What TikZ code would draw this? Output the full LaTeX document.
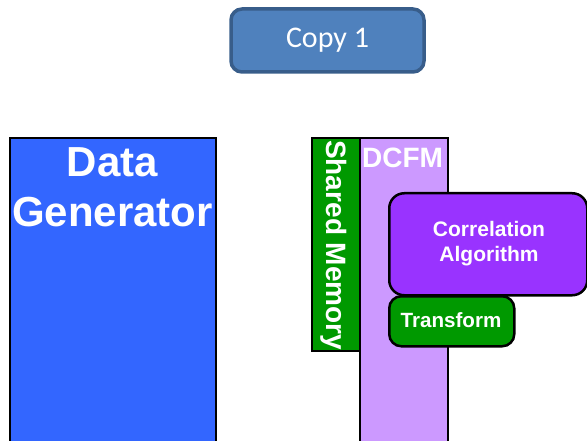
\documentclass[tikz,border=0pt]{standalone}
\usepackage{fontspec}
\setmainfont{Liberation Sans}
\newfontfamily\calib{Carlito}
\definecolor{dgblue}{HTML}{3366FF}
\definecolor{smgreen}{HTML}{009900}
\definecolor{dcfmlav}{HTML}{CC99FF}
\definecolor{corrpurple}{HTML}{9933FF}
\definecolor{copyfill}{HTML}{4F81BD}
\definecolor{copyline}{HTML}{385D8A}
\tikzset{
  sqbox/.style={draw=black, line width=2pt, inner sep=0pt, anchor=north west},
  rbox/.style={draw=black, line width=2.5pt, inner sep=0pt, anchor=north west},
  wlab/.style={text=white, font=\bfseries, inner sep=0pt}
}
\begin{document}
\begin{tikzpicture}[x=1pt,y=-1pt]
\useasboundingbox (0,0) rectangle (587,441);
% Copy 1
\node[draw=copyline, line width=3.5pt, fill=copyfill, rounded corners=11pt,
      minimum width=193pt, minimum height=63pt, inner sep=0pt,
      text=white, font=\calib\fontsize{30}{33}\selectfont] (copy) at (327.5,40.5) {Copy 1};
% Data generator
\node[sqbox, fill=dgblue, minimum width=206pt, minimum height=306pt] (dg) at (9,137) {};
\node[wlab, font=\bfseries\fontsize{42}{48}\selectfont, anchor=base] (dgt1) at (112.5,177) {Data};
\node[wlab, font=\bfseries\fontsize{42}{48}\selectfont, anchor=base] (dgt2) at (112.5,227) {Generator};
% DCFM
\node[sqbox, fill=dcfmlav, minimum width=88pt, minimum height=306pt] (dcfm) at (359,137) {};
\node[wlab, font=\bfseries\fontsize{28}{30}\selectfont, anchor=base west] (dcfmt) at (362,168) {DCFM};
% Shared memory
\node[sqbox, fill=smgreen, minimum width=48pt, minimum height=213pt] (sm) at (311,137) {};
\node[wlab, font=\bfseries\fontsize{28}{30}\selectfont, rotate=-90, anchor=base west] (smt) at (326,140) {Shared Memory};
% Correlation algorithm
\node[rbox, fill=corrpurple, rounded corners=15pt, minimum width=198pt, minimum height=102pt] (corr) at (388,192) {};
\node[wlab, font=\bfseries\fontsize{21}{25}\selectfont, align=center] (corrt) at (489,244) {Correlation\\Algorithm};
% Transform
\node[rbox, fill=smgreen, rounded corners=12pt, minimum width=125pt, minimum height=50pt] (tr) at (388,295) {};
\node[wlab, font=\bfseries\fontsize{20.6}{24}\selectfont] (trt) at (451,320) {Transform};
\end{tikzpicture}
\end{document}
